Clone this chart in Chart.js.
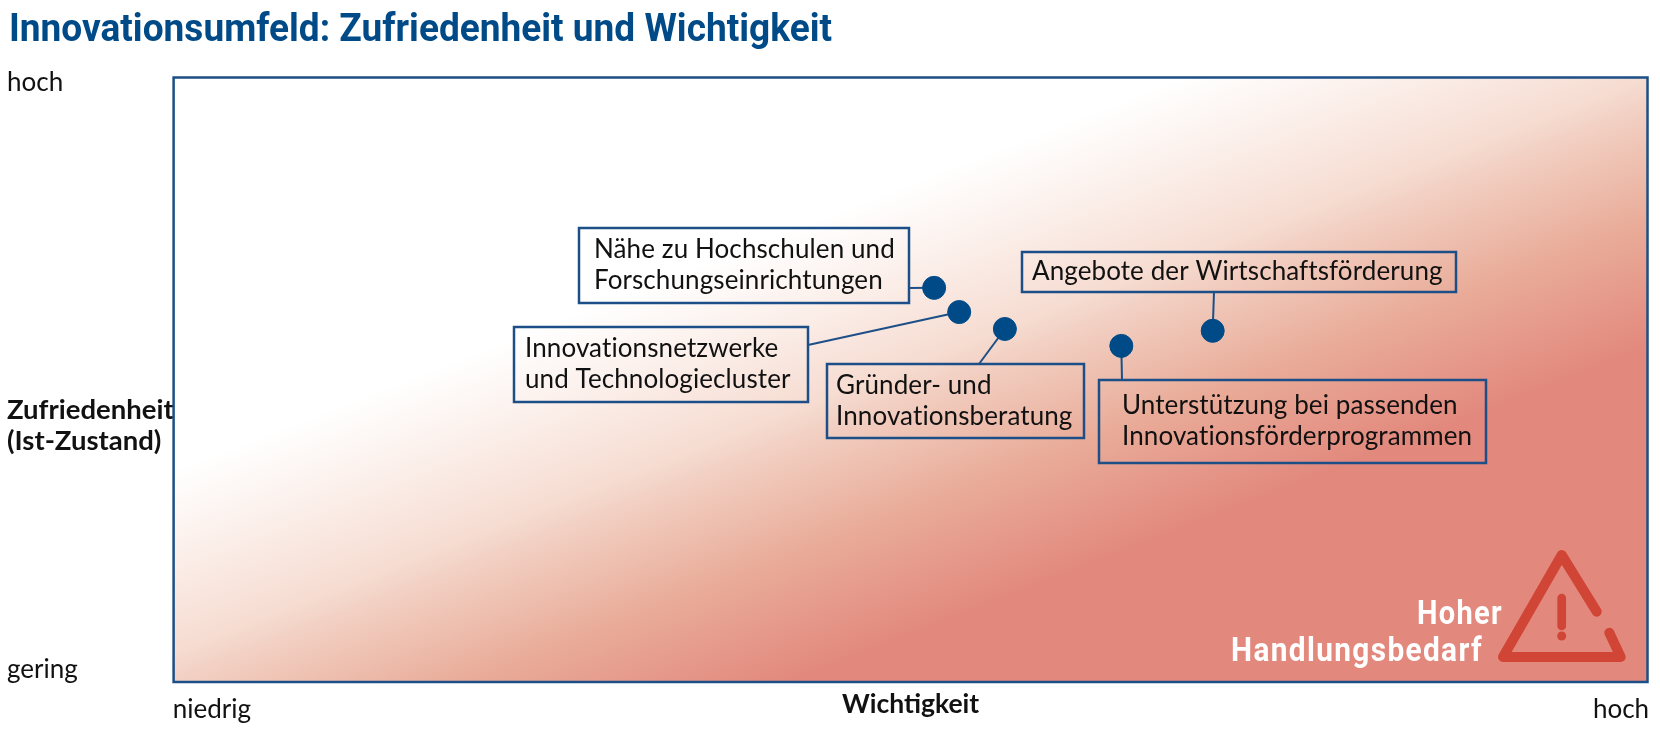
<!DOCTYPE html>
<html lang="de">
<head>
<meta charset="utf-8">
<title>Innovationsumfeld</title>
<style>
  html, body { margin: 0; padding: 0; background: #fff; overflow: hidden; }
  canvas { display: block; }
</style>
<script src="https://cdn.jsdelivr.net/npm/chart.js@4"></script>
</head>
<body>
<canvas id="Chart" width="1660" height="732"></canvas>
<script>
  const names = [
    "Nähe zu Hochschulen und Forschungseinrichtungen",
    "Innovationsnetzwerke und Technologiecluster",
    "Gründer- und Innovationsberatung",
    "Unterstützung bei passenden Innovationsförderprogrammen",
    "Angebote der Wirtschaftsförderung",
  ];
  const wichtigkeit = [51.6, 53.3, 56.4, 64.3, 70.5];
  const zufriedenheit = [65.2, 61.2, 58.4, 55.6, 58.1];

  const xTickValues = [2.6, 98.2];
  const xTickLabels = ["niedrig", "hoch"];
  const yTickValues = [99.2, 42.4, 2];
  const yTickLabels = ["hoch", ["Zufriedenheit", "(Ist-Zustand)"], "gering"];

  const BLUE = "#004a87";
  const FRAME = "#1c4f87";

  // label boxes in canvas pixels, lines = text rows, from = where the leader leaves the box
  const boxes = [
    { x: 579, y: 228, w: 330, h: 75, tx: 594, lines: ["Nähe zu Hochschulen und", "Forschungseinrichtungen"], from: [909, 288] },
    { x: 514, y: 327, w: 294, h: 75, tx: 525, lines: ["Innovationsnetzwerke", "und Technologiecluster"], from: [808, 345] },
    { x: 827, y: 364, w: 257, h: 74, tx: 836, lines: ["Gründer- und", "Innovationsberatung"], from: [979, 364] },
    { x: 1099, y: 380, w: 387, h: 83, tx: 1122, lines: ["Unterstützung bei passenden", "Innovationsförderprogrammen"], from: [1122, 380] },
    { x: 1022, y: 252, w: 434, h: 40, tx: 1032, lines: ["Angebote der Wirtschaftsförderung"], from: [1214, 292] },
  ];

  const backdrop = {
    id: "backdrop",
    beforeDatasetsDraw(chart) {
      const { ctx, chartArea: a } = chart;
      const g = ctx.createLinearGradient(174, 470, 327.5, 864);
      g.addColorStop(0, "#ffffff");
      g.addColorStop(0.2, "#fbeee9");
      g.addColorStop(0.4, "#f6dcd1");
      g.addColorStop(0.467, "#f2d0c3");
      g.addColorStop(0.72, "#e9ab98");
      g.addColorStop(1, "#e2887d");
      ctx.save();
      ctx.fillStyle = g;
      ctx.fillRect(a.left, a.top, a.right - a.left, a.bottom - a.top);
      ctx.strokeStyle = FRAME;
      ctx.lineWidth = 2.5;
      ctx.strokeRect(a.left, a.top, a.right - a.left, a.bottom - a.top);

      // title, squeezed because no condensed face is installed
      ctx.fillStyle = BLUE;
      ctx.font = "bold 38px Roboto";
      ctx.textAlign = "left";
      ctx.textBaseline = "alphabetic";
      ctx.fillText("Innovationsumfeld: Zufriedenheit und Wichtigkeit", 9, 41, 823);

      // leaders and boxes, leader ends come from the dataset points
      const pts = chart.getDatasetMeta(0).data;
      boxes.forEach((b, i) => {
        ctx.lineWidth = 2;
        ctx.beginPath();
        ctx.moveTo(b.from[0], b.from[1]);
        ctx.lineTo(pts[i].x, pts[i].y);
        ctx.stroke();
        ctx.lineWidth = 2.5;
        ctx.strokeRect(b.x, b.y, b.w, b.h);
        ctx.fillStyle = "#111";
        ctx.font = "26px Lato";
        ctx.letterSpacing = "0.1px";
        ctx.textBaseline = "middle";
        const top = b.y + b.h / 2 - (b.lines.length - 1) * 15.5;
        b.lines.forEach((t, j) => ctx.fillText(t, b.tx, top + j * 31));
      });
      ctx.letterSpacing = "0px";

      // warning triangle with the gap in its right side
      ctx.strokeStyle = "#d04535";
      ctx.lineWidth = 10;
      ctx.lineJoin = "round";
      ctx.lineCap = "round";
      ctx.beginPath();
      ctx.moveTo(1596.7, 611.7);
      ctx.lineTo(1561.7, 555);
      ctx.lineTo(1503, 657);
      ctx.lineTo(1620.7, 657);
      ctx.lineTo(1609.3, 632.7);
      ctx.stroke();
      ctx.lineWidth = 8.7;
      ctx.beginPath();
      ctx.moveTo(1561.7, 598);
      ctx.lineTo(1561.7, 626);
      ctx.stroke();
      ctx.fillStyle = "#d04535";
      ctx.beginPath();
      ctx.arc(1561.7, 636, 4.5, 0, Math.PI * 2);
      ctx.fill();

      ctx.fillStyle = "#fff";
      ctx.font = "bold 33px Roboto";
      ctx.letterSpacing = "1.5px";
      ctx.textAlign = "right";
      ctx.textBaseline = "alphabetic";
      ctx.fillText("Hoher", 1503, 624, 86);
      ctx.fillText("Handlungsbedarf", 1483, 661, 252);
      ctx.restore();
    },
  };

  new Chart(document.getElementById("Chart").getContext("2d"), {
    type: "scatter",
    plugins: [backdrop],
    data: {
      labels: names,
      datasets: [
        {
          label: "Innovationsumfeld",
          data: wichtigkeit.map((v, i) => ({ x: v, y: zufriedenheit[i] })),
          backgroundColor: BLUE,
          borderColor: BLUE,
          pointRadius: 11.5,
        },
      ],
    },
    options: {
      responsive: false,
      animation: false,
      devicePixelRatio: 1,
      layout: { padding: { left: 7, right: 11.5, top: 77.5, bottom: 0 } },
      plugins: {
        legend: { display: false },
        tooltip: { enabled: false },
      },
      scales: {
        x: {
          type: "linear",
          min: 0,
          max: 100,
          grid: { display: false, drawTicks: false },
          border: { display: false },
          afterBuildTicks(axis) {
            axis.ticks = xTickValues.map((v) => ({ value: v }));
          },
          afterFit(axis) {
            axis.height = 50;
            axis.paddingLeft = 0;
            axis.paddingRight = 0;
          },
          ticks: {
            autoSkip: false,
            maxRotation: 0,
            padding: 12,
            color: "#111",
            font: { family: "Lato", size: 26 },
            callback: (v, i) => xTickLabels[i],
          },
          title: {
            display: true,
            text: "Wichtigkeit",
            color: "#111",
            font: { family: "Lato", size: 26.5, weight: "bold" },
            padding: { top: 0, bottom: 12 },
          },
        },
        y: {
          type: "linear",
          min: 0,
          max: 100,
          grid: { display: false, drawTicks: false },
          border: { display: false },
          afterBuildTicks(axis) {
            axis.ticks = yTickValues.map((v) => ({ value: v }));
          },
          afterFit(axis) {
            axis.width = 166.6;
            axis.paddingTop = 0;
            axis.paddingBottom = 0;
          },
          ticks: {
            autoSkip: false,
            crossAlign: "far",
            padding: 0,
            color: "#111",
            font: (c) => ({
              family: "Lato",
              size: c.index === 1 ? 27.5 : 26,
              weight: c.index === 1 ? "bold" : "normal",
              lineHeight: c.index === 1 ? 1.15 : 1.2,
            }),
            callback: (v, i) => yTickLabels[i],
          },
        },
      },
    },
  });
</script>
</body>
</html>
